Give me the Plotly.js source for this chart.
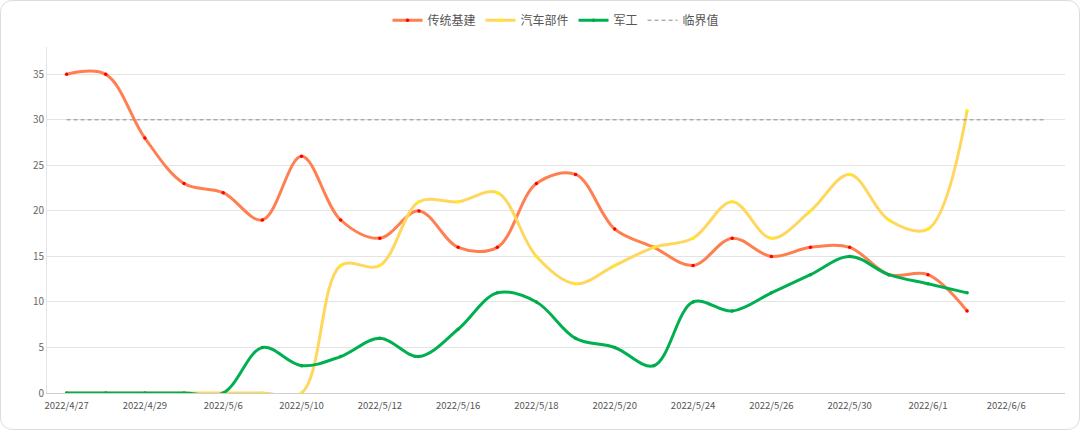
<!DOCTYPE html>
<html>
<head>
<meta charset="utf-8">
<script src="https://cdn.plot.ly/plotly-3.0.1.min.js"></script>
<style>
  html, body { margin: 0; padding: 0; background: #fff; }
  #chart { position: absolute; left: 0; top: 0; width: 1080px; height: 430px; }
  #frame { position: absolute; left: 0; top: 0; width: 1080px; height: 430px; box-sizing: border-box;
           border: 1px solid #dcdcdc; border-radius: 12px; pointer-events: none; }
</style>
</head>
<body>
<div id="chart"></div>
<div id="frame"></div>
<script>
// Categories (trading days)
const dates = ['2022/4/27','2022/4/28','2022/4/29','2022/5/5','2022/5/6','2022/5/9','2022/5/10','2022/5/11',
  '2022/5/12','2022/5/13','2022/5/16','2022/5/17','2022/5/18','2022/5/19','2022/5/20','2022/5/23',
  '2022/5/24','2022/5/25','2022/5/26','2022/5/27','2022/5/30','2022/5/31','2022/6/1','2022/6/2',
  '2022/6/6','2022/6/7'];
// Series values
const infra = [35,35,28,23,22,19,26,19,17,20,16,16,23,24,18,16,14,17,15,16,16,13,13,9];
const auto  = [0,0,0,0,0,0,0,14,14,21,21,22,15,12,14,16,17,21,17,20,24,19,18,31];
const military = [0,0,0,0,0,5,3,4,6,4,7,11,10,6,5,3,10,9,11,13,15,13,12,11];
const threshold = dates.map(() => 30);
// Tick labels shown on the axis
const tickLabels = ['2022/4/27','2022/4/29','2022/5/6','2022/5/10','2022/5/12','2022/5/16','2022/5/18',
  '2022/5/20','2022/5/24','2022/5/26','2022/5/30','2022/6/1','2022/6/6'];
const names = ['传统基建','汽车部件','军工','临界值'];

const font = '"Noto Sans CJK SC", "Noto Sans", sans-serif';
const xs = dates.slice(0, infra.length);
const lineShape = {shape: 'spline', smoothing: 1};

const traces = [
  {type: 'scatter', mode: 'lines+markers', name: names[0], x: xs, y: infra,
   line: Object.assign({color: '#FF7F50', width: 3}, lineShape),
   marker: {color: '#FF0000', size: 3.5}},
  {type: 'scatter', mode: 'lines+markers', name: names[1], x: xs, y: auto,
   line: Object.assign({color: '#FFD75E', width: 3}, lineShape),
   marker: {color: '#FFF200', size: 3.5}},
  {type: 'scatter', mode: 'lines+markers', name: names[2], x: xs, y: military,
   line: Object.assign({color: '#00B050', width: 3}, lineShape),
   marker: {color: '#00A848', size: 3.5}},
  {type: 'scatter', mode: 'lines', name: names[3], x: dates, y: threshold,
   line: {color: '#8c8c8c', width: 1, dash: '4px,3px'}}
];

// split lines every 3 categories, at category boundaries
const splitVals = [];
for (let i = 0; i <= dates.length; i += 3) splitVals.push(i - 0.5);

const layout = {
  width: 1080, height: 430,
  margin: {l: 47, r: 15, t: 47, b: 37},
  paper_bgcolor: 'rgba(0,0,0,0)',
  plot_bgcolor: 'rgba(0,0,0,0)',
  font: {family: font, size: 12, color: '#555'},
  showlegend: true,
  legend: {orientation: 'h', x: 0.5, xanchor: 'center', yref: 'container', y: 0.953, yanchor: 'middle',
           font: {family: font, size: 12, color: '#555'}, itemwidth: 30, tracegroupgap: 0},
  xaxis: {type: 'category', categoryorder: 'array', categoryarray: dates,
          range: [-0.5, dates.length - 0.5], tickvals: tickLabels, ticktext: tickLabels,
          showgrid: false, zeroline: false, showline: true, linecolor: '#cfcfcf', linewidth: 1,
          ticks: '', ticklabelstandoff: 4, tickfont: {family: font, size: 9.5, color: '#555'}, fixedrange: true},
  xaxis2: {overlaying: 'x', anchor: 'y', side: 'bottom', type: 'linear',
           range: [-0.5, dates.length - 0.5], tickmode: 'array', tickvals: splitVals,
           showticklabels: false, showgrid: true, gridcolor: '#e4e4e4', gridwidth: 1,
           ticks: 'outside', ticklen: 5, tickcolor: '#cfcfcf', zeroline: false, showline: false},
  yaxis: {range: [0, 38], dtick: 5, tick0: 0, showgrid: true, gridcolor: '#e4e4e4', gridwidth: 1,
          zeroline: false, showline: true, linecolor: '#e4e4e4', ticks: '',
          tickfont: {family: font, size: 10, color: '#666'}, fixedrange: true}
};

Plotly.newPlot('chart', traces, layout, {displayModeBar: false, staticPlot: true});
</script>
</body>
</html>
